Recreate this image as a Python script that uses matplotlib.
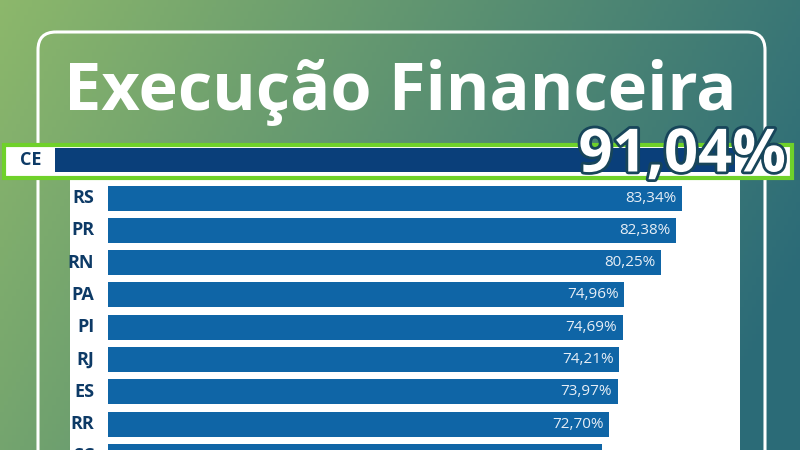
import numpy as np
import matplotlib.pyplot as plt
from matplotlib.patches import FancyBboxPatch, Rectangle
import matplotlib.patheffects as pe

# dados
destaque_uf = "CE"
destaque_valor = 91.04
ufs = ["RS", "PR", "RN", "PA", "PI", "RJ", "ES", "RR", "SC"]
valores = [83.34, 82.38, 80.25, 74.96, 74.69, 74.21, 73.97, 72.70, 71.75]
rotulos = ["83,34%", "82,38%", "80,25%", "74,96%", "74,69%", "74,21%", "73,97%", "72,70%", "71,75%"]

W, H = 800, 450
fig = plt.figure(figsize=(8, 4.5), dpi=100)

# fundo em degradê
bg = fig.add_axes([0, 0, 1, 1])
xx = np.linspace(0, 1, 200)
yy = np.linspace(0, 1, 120)
X, Y = np.meshgrid(xx, yy)
c_esq = np.array([0.55, 0.72, 0.42])
c_dir = np.array([0.17, 0.42, 0.47])
t = np.clip(X * 0.85 + Y * 0.25, 0, 1)[..., None]
img = c_esq * (1 - t) + c_dir * t
bg.imshow(img, extent=[0, W, H, 0], aspect="auto")
bg.set_xlim(0, W)
bg.set_ylim(H, 0)
bg.axis("off")

# painel
bg.add_patch(FancyBboxPatch((38, 32), 727, 500, boxstyle="round,pad=0,rounding_size=18",
                            fill=False, ec="white", lw=2.2))
bg.add_patch(Rectangle((70, 180), 670, 280, fc="white", ec="none"))
bg.text(400, 92, "Execução Financeira", color="white", fontsize=48, fontweight="bold",
        ha="center", va="center", family="Open Sans")

# barras
ax = fig.add_axes([108 / W, 0, 689 / W, 1])
ax.set_xlim(0, 100)
ax.set_ylim(H, 0)
ax.axis("off")

ys = [198 + 32.3 * i for i in range(len(ufs))]
ax.barh(ys, valores, height=25, color="#0f65a6")
for y, uf, v, r in zip(ys, ufs, valores, rotulos):
    ax.text(-2, y, uf, ha="right", va="center", color="#0d3a66", fontsize=13,
            fontweight="bold", family="Open Sans")
    ax.text(v - 0.8, y, r, ha="right", va="center", color="#e6eef6", fontsize=11,
            family="Open Sans")

# destaque CE
bg.add_patch(Rectangle((4, 145), 788, 33, fc="white", ec="#6fd12a", lw=3))
ce = ax.barh([160], [destaque_valor + 7.7], height=24, color="#0a3f7a", left=-7.7)
for b in ce:
    b.set_clip_on(False)
bg.text(20, 160, destaque_uf, ha="left", va="center", color="#0d3a66", fontsize=13,
        fontweight="bold", family="Open Sans")
fig.text(786, 156, "91,04%", ha="right", va="center", color="white", fontsize=43,
         fontweight="bold", family="Open Sans", transform=bg.transData,
         path_effects=[pe.withStroke(linewidth=4, foreground="#17455a")])

fig.savefig("out.png", dpi=100)
